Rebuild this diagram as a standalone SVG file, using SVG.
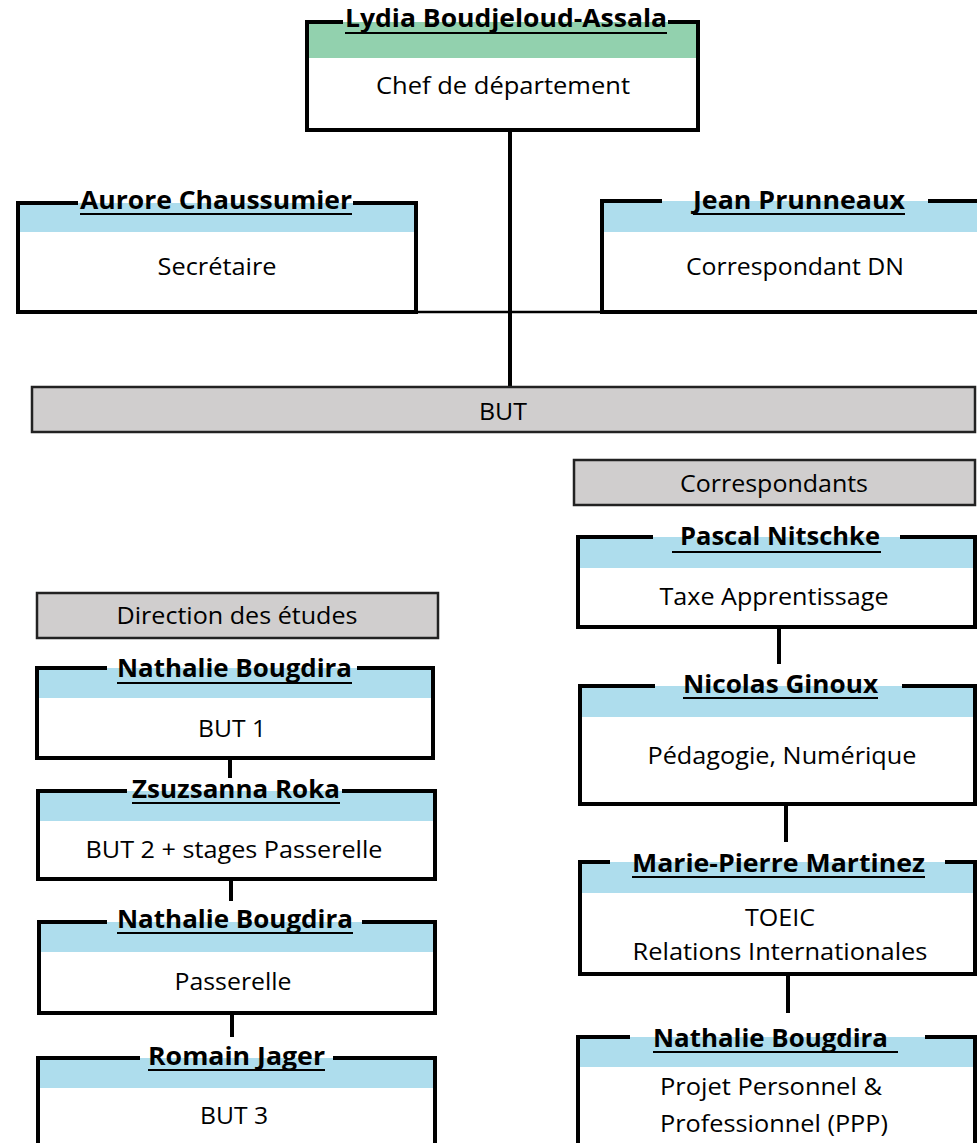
<svg xmlns="http://www.w3.org/2000/svg" width="977" height="1143" viewBox="0 0 977 1143">
<style>
.bg{fill:#fff}
.bb{fill:#AEDDED}
.bg2{fill:#92D1AE}
.bd{fill:none;stroke:#000;stroke-width:4;stroke-linejoin:miter}
.gr{fill:#D0CECE;stroke:#222;stroke-width:2.5}
.nm{font-family:"Open Sans","Liberation Sans",sans-serif;font-weight:bold;font-size:25px;fill:#000}
.tx{font-family:"Open Sans","Liberation Sans",sans-serif;font-size:24px;fill:#000}
.ul{stroke:#000;stroke-width:2}
.cn{stroke:#000;stroke-width:4;fill:none}
.cn2{stroke:#000;stroke-width:2.5;fill:none}
</style>
<rect width="977" height="1143" fill="#fff"/>
<g id="connectors">
<line class="cn" x1="510" y1="130" x2="510" y2="387"/>
<line class="cn2" x1="416" y1="312" x2="602" y2="312"/>
<line class="cn" x1="230" y1="758" x2="230" y2="778"/>
<line class="cn" x1="231" y1="879" x2="231" y2="901"/>
<line class="cn" x1="232" y1="1013" x2="232" y2="1037"/>
<line class="cn" x1="779" y1="627" x2="779" y2="664"/>
<line class="cn" x1="786" y1="804" x2="786" y2="842"/>
<line class="cn" x1="788" y1="974" x2="788" y2="1013"/>
</g>
<g id="lydia">
<rect class="bg" x="307" y="22" width="391" height="108"/>
<rect class="bg2" x="307" y="22" width="391" height="36"/>
<path class="bd" d="M343,22 H307 V130 H698 V22 H668"/>
<text class="nm" x="345" y="27" textLength="322" lengthAdjust="spacingAndGlyphs">Lydia Boudjeloud-Assala</text>
<line class="ul" x1="345" y1="33" x2="667" y2="33"/>
<text class="tx" x="503" y="94" text-anchor="middle" textLength="254" lengthAdjust="spacingAndGlyphs">Chef de département</text>
</g>
<g id="aurore">
<rect class="bg" x="18" y="203" width="398" height="109"/>
<rect class="bb" x="18" y="203" width="398" height="29"/>
<path class="bd" d="M78,203 H18 V312 H416 V203 H353"/>
<text class="nm" x="80" y="209" textLength="272" lengthAdjust="spacingAndGlyphs">Aurore Chaussumier</text>
<line class="ul" x1="80" y1="214" x2="352" y2="214"/>
<text class="tx" x="217" y="275" text-anchor="middle" textLength="119" lengthAdjust="spacingAndGlyphs">Secrétaire</text>
</g>
<g id="jean">
<rect class="bg" x="602" y="201" width="400" height="111"/>
<rect class="bb" x="602" y="201" width="400" height="31"/>
<path class="bd" d="M662,201 H602 V312 H1000 M980,201 H928"/>
<text class="nm" x="693" y="209" textLength="212" lengthAdjust="spacingAndGlyphs">Jean Prunneaux</text>
<line class="ul" x1="693" y1="214" x2="905" y2="214"/>
<text class="tx" x="795" y="275" text-anchor="middle" textLength="218" lengthAdjust="spacingAndGlyphs">Correspondant DN</text>
</g>
<g id="but">
<rect class="gr" x="32" y="387" width="943" height="45"/>
<text class="tx" x="503" y="420" text-anchor="middle" textLength="48" lengthAdjust="spacingAndGlyphs">BUT</text>
</g>
<g id="correspondants">
<rect class="gr" x="574" y="460" width="401" height="45"/>
<text class="tx" x="774" y="492" text-anchor="middle" textLength="188" lengthAdjust="spacingAndGlyphs">Correspondants</text>
</g>
<g id="pascal">
<rect class="bg" x="578" y="537" width="397" height="90"/>
<rect class="bb" x="578" y="537" width="397" height="31"/>
<path class="bd" d="M653,537 H578 V627 H975 V537 H900"/>
<text class="nm" x="680" y="545" textLength="200" lengthAdjust="spacingAndGlyphs">Pascal Nitschke</text>
<line class="ul" x1="672" y1="552" x2="881" y2="552"/>
<text class="tx" x="774" y="605" text-anchor="middle" textLength="229" lengthAdjust="spacingAndGlyphs">Taxe Apprentissage</text>
</g>
<g id="nicolas">
<rect class="bg" x="580" y="686" width="395" height="118"/>
<rect class="bb" x="580" y="686" width="395" height="31"/>
<path class="bd" d="M655,686 H580 V804 H975 V686 H902"/>
<text class="nm" x="683" y="693" textLength="195" lengthAdjust="spacingAndGlyphs">Nicolas Ginoux</text>
<line class="ul" x1="683" y1="698" x2="878" y2="698"/>
<text class="tx" x="782" y="764" text-anchor="middle" textLength="269" lengthAdjust="spacingAndGlyphs">Pédagogie, Numérique</text>
</g>
<g id="marie">
<rect class="bg" x="580" y="862" width="395" height="112"/>
<rect class="bb" x="580" y="862" width="395" height="31"/>
<path class="bd" d="M610,862 H580 V974 H975 V862 H945"/>
<text class="nm" x="632" y="872" textLength="293" lengthAdjust="spacingAndGlyphs">Marie-Pierre Martinez</text>
<line class="ul" x1="632" y1="877" x2="925" y2="877"/>
<text class="tx" x="780" y="926" text-anchor="middle" textLength="70" lengthAdjust="spacingAndGlyphs">TOEIC</text>
<text class="tx" x="780" y="960" text-anchor="middle" textLength="295" lengthAdjust="spacingAndGlyphs">Relations Internationales</text>
</g>
<g id="nathalie-ppp">
<rect class="bg" x="578" y="1037" width="397" height="120"/>
<rect class="bb" x="578" y="1037" width="397" height="30"/>
<path class="bd" d="M630,1037 H578 V1160 M975,1160 V1037 H925"/>
<text class="nm" x="653" y="1047" textLength="235" lengthAdjust="spacingAndGlyphs">Nathalie Bougdira</text>
<line class="ul" x1="653" y1="1052" x2="898" y2="1052"/>
<text class="tx" x="660" y="1095" textLength="222" lengthAdjust="spacingAndGlyphs">Projet Personnel &amp;</text>
<text class="tx" x="660" y="1132" textLength="228" lengthAdjust="spacingAndGlyphs">Professionnel (PPP)</text>
</g>
<g id="direction">
<rect class="gr" x="37" y="593" width="401" height="45"/>
<text class="tx" x="237" y="624" text-anchor="middle" textLength="241" lengthAdjust="spacingAndGlyphs">Direction des études</text>
</g>
<g id="nathalie-but1">
<rect class="bg" x="37" y="668" width="396" height="90"/>
<rect class="bb" x="37" y="668" width="396" height="30"/>
<path class="bd" d="M107,668 H37 V758 H433 V668 H357"/>
<text class="nm" x="117" y="677" textLength="235" lengthAdjust="spacingAndGlyphs">Nathalie Bougdira</text>
<line class="ul" x1="117" y1="683" x2="352" y2="683"/>
<text class="tx" x="232" y="737" text-anchor="middle" textLength="68" lengthAdjust="spacingAndGlyphs">BUT 1</text>
</g>
<g id="zsuzsanna">
<rect class="bg" x="38" y="791" width="397" height="88"/>
<rect class="bb" x="38" y="791" width="397" height="30"/>
<path class="bd" d="M127,791 H38 V879 H435 V791 H342"/>
<text class="nm" x="132" y="798" textLength="208" lengthAdjust="spacingAndGlyphs">Zsuzsanna Roka</text>
<line class="ul" x1="132" y1="803" x2="340" y2="803"/>
<text class="tx" x="234" y="858" text-anchor="middle" textLength="297" lengthAdjust="spacingAndGlyphs">BUT 2 + stages Passerelle</text>
</g>
<g id="nathalie-passerelle">
<rect class="bg" x="39" y="922" width="396" height="91"/>
<rect class="bb" x="39" y="922" width="396" height="30"/>
<path class="bd" d="M107,922 H39 V1013 H435 V922 H362"/>
<text class="nm" x="117" y="928" textLength="236" lengthAdjust="spacingAndGlyphs">Nathalie Bougdira</text>
<line class="ul" x1="117" y1="933" x2="353" y2="933"/>
<text class="tx" x="233" y="990" text-anchor="middle" textLength="117" lengthAdjust="spacingAndGlyphs">Passerelle</text>
</g>
<g id="romain">
<rect class="bg" x="38" y="1058" width="397" height="100"/>
<rect class="bb" x="38" y="1058" width="397" height="30"/>
<path class="bd" d="M140,1058 H38 V1160 M435,1160 V1058 H333"/>
<text class="nm" x="148" y="1065" textLength="177" lengthAdjust="spacingAndGlyphs">Romain Jager</text>
<line class="ul" x1="148" y1="1070" x2="325" y2="1070"/>
<text class="tx" x="234" y="1124" text-anchor="middle" textLength="68" lengthAdjust="spacingAndGlyphs">BUT 3</text>
</g>
</svg>
